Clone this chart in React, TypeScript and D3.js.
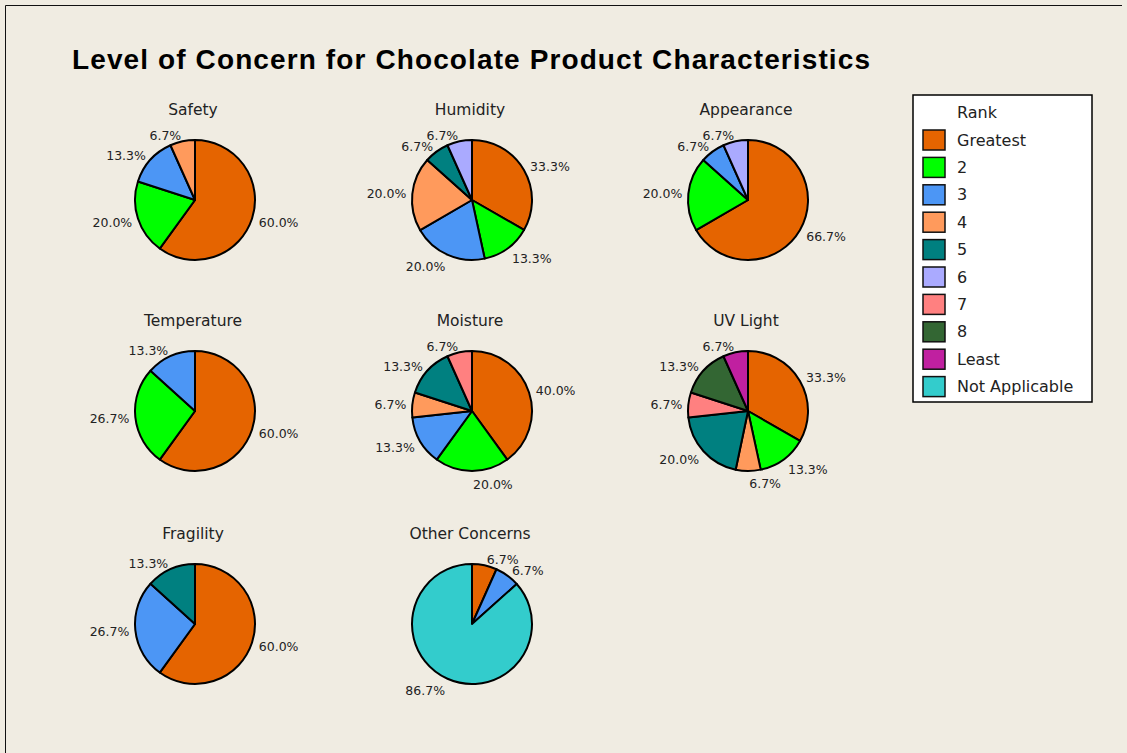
import React from "react";
import * as d3 from "d3";

// Rank categories and their fill colours
const ranks = ["Greatest", "2", "3", "4", "5", "6", "7", "8", "Least", "Not Applicable"];
const rankColors = [
  "#E56400", "#00FF00", "#4C96F5", "#FF9A5C", "#008080",
  "#AAAAFF", "#FF8080", "#336633", "#C020A0", "#33CCCC",
];

// Percent of respondents per rank (same order as ranks)
const safety = [60.0, 20.0, 13.3, 6.7, 0, 0, 0, 0, 0, 0];
const humidity = [33.3, 13.3, 20.0, 20.0, 6.7, 6.7, 0, 0, 0, 0];
const appearance = [66.7, 20.0, 6.7, 0, 0, 6.7, 0, 0, 0, 0];
const temperature = [60.0, 26.7, 13.3, 0, 0, 0, 0, 0, 0, 0];
const moisture = [40.0, 20.0, 13.3, 6.7, 13.3, 0, 6.7, 0, 0, 0];
const uvLight = [33.3, 13.3, 0, 6.7, 20.0, 0, 6.7, 13.3, 6.7, 0];
const fragility = [60.0, 0, 26.7, 0, 13.3, 0, 0, 0, 0, 0];
const otherConcerns = [6.7, 0, 6.7, 0, 0, 0, 0, 0, 0, 86.7];

const panelTitles = [
  "Safety", "Humidity", "Appearance",
  "Temperature", "Moisture", "UV Light",
  "Fragility", "Other Concerns",
];
const panelValues = [
  safety, humidity, appearance,
  temperature, moisture, uvLight,
  fragility, otherConcerns,
];

const chartTitle = "Level of Concern for Chocolate Product Characteristics";

const W = 1127;
const H = 753;
const BG = "#F0ECE2";
const FONT = "'DejaVu Sans', Verdana, sans-serif";

const colX = [195, 472, 748];
const rowY = [200, 411, 624];
const R = 60;

type Slice = { value: number; rank: number };

function PiePanel({ title, values, cx, cy }: { title: string; values: number[]; cx: number; cy: number }) {
  const items: Slice[] = values
    .map((v, i) => ({ value: v, rank: i }))
    .filter((d) => d.value > 0);
  const pie = d3.pie<Slice>().sort(null).value((d) => d.value);
  const arcs = pie(items);
  const arc = d3.arc<d3.PieArcDatum<Slice>>().innerRadius(0).outerRadius(R);

  return (
    <g>
      <text
        x={cx - 2}
        y={cy - 85}
        textAnchor="middle"
        fontFamily={FONT}
        fontSize={15.5}
        fill="#222"
      >
        {title}
      </text>
      <g transform={`translate(${cx},${cy})`}>
        {arcs.map((a, i) => (
          <path
            key={i}
            d={arc(a) || ""}
            fill={rankColors[a.data.rank]}
            stroke="#000"
            strokeWidth={2}
            strokeLinejoin="round"
          />
        ))}
        {arcs.map((a, i) => {
          const mid = (a.startAngle + a.endAngle) / 2;
          const dx = Math.sin(mid);
          const dy = -Math.cos(mid);
          const rl = R + 6;
          const x = rl * dx + (dx >= 0 ? 1 : 0);
          const y = rl * dy + (dy > 0 ? 7 * dy : 0);
          return (
            <text
              key={`l${i}`}
              x={x}
              y={y}
              textAnchor={dx >= 0 ? "start" : "end"}
              dominantBaseline="central"
              fontFamily={FONT}
              fontSize={12.5}
              fill="#222"
            >
              {`${a.data.value.toFixed(1)}%`}
            </text>
          );
        })}
      </g>
    </g>
  );
}

function Legend() {
  const x0 = 913;
  const y0 = 95;
  const w = 179;
  const h = 307;
  const rowStep = 27.4;
  const firstRow = 140;
  return (
    <g>
      <rect x={x0} y={y0} width={w} height={h} fill="#FFFFFF" stroke="#000" strokeWidth={1.5} />
      <text x={957} y={firstRow - rowStep} dominantBaseline="central" fontFamily={FONT} fontSize={16} fill="#222">
        Rank
      </text>
      {ranks.map((r, i) => {
        const yc = firstRow + i * rowStep;
        return (
          <g key={r}>
            <rect
              x={923}
              y={yc - 10}
              width={22}
              height={20}
              fill={rankColors[i]}
              stroke="#111"
              strokeWidth={1.5}
            />
            <text x={957} y={yc} dominantBaseline="central" fontFamily={FONT} fontSize={16} fill="#222">
              {r}
            </text>
          </g>
        );
      })}
    </g>
  );
}

export default function App() {
  return (
    <svg
      width={W}
      height={H}
      viewBox={`0 0 ${W} ${H}`}
      style={{ position: "absolute", left: 0, top: 0, display: "block" }}
    >
      <rect x={0} y={0} width={W} height={H} fill={BG} />
      <line x1={5.5} y1={5.5} x2={1122} y2={5.5} stroke="#111" strokeWidth={1} />
      <line x1={5.5} y1={5.5} x2={5.5} y2={H} stroke="#111" strokeWidth={1} />
      <text
        x={72}
        y={69}
        fontFamily="'Liberation Sans', Arial, sans-serif"
        fontWeight="bold"
        fontSize={28}
        textLength={798}
        lengthAdjust="spacing"
        fill="#000"
      >
        {chartTitle}
      </text>
      {panelTitles.map((t, i) => (
        <PiePanel
          key={t}
          title={t}
          values={panelValues[i]}
          cx={colX[i % 3]}
          cy={rowY[Math.floor(i / 3)]}
        />
      ))}
      <Legend />
    </svg>
  );
}
